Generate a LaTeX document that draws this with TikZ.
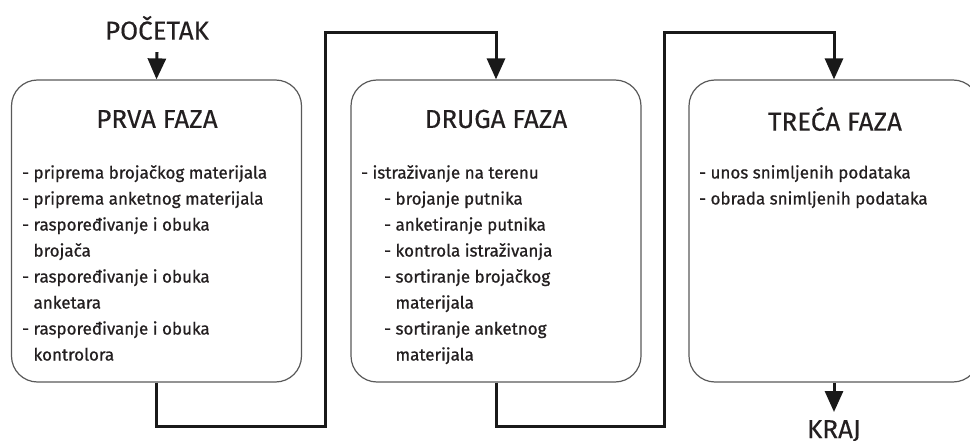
\documentclass[tikz,border=0pt]{standalone}
\usepackage{fontspec}
\setmainfont{Fira Sans}
\newfontfamily\heavier{Fira Sans}[FakeBold=0.8]
\newfontfamily\lighter{Fira Sans}[FakeBold=0.3]
\usetikzlibrary{arrows.meta}
\definecolor{ink}{HTML}{231F20}
\tikzset{
 phase/.style={draw=black!65, line width=1.2pt, rounded corners=26pt, minimum width=290pt, minimum height=302pt, inner sep=0pt},
 title/.style={font=\lighter\fontsize{26}{30}\selectfont, text=ink, inner sep=0pt},
 body/.style={font=\heavier\fontsize{17}{26}\selectfont, text=ink, align=left, anchor=north west, inner sep=0pt},
 conn/.style={line width=3pt, draw=black!90},
 tip/.style={-{Triangle[length=21pt,width=18pt]}},
}
\newcommand\contind{\phantom{- }}
\newcommand\subind{\hspace*{23pt}}
\begin{document}
\begin{tikzpicture}[x=1pt,y=-1pt]
\useasboundingbox (0,0) rectangle (970,441);
% boxes
\node[phase] (b1) at (156.5,231) {};
\node[phase] (b2) at (496,231) {};
\node[phase] (b3) at (834,231) {};
% titles
\node[title] (t1) at (157,119) {PRVA FAZA};
\node[title] (t2) at (496,119) {DRUGA FAZA};
\node[title] (t3) at (835,119) {TREĆA FAZA};
% bodies
\node[body] (l1) at (22,165) {- priprema brojačkog materijala\\
- priprema anketnog materijala\\
- raspoređivanje i obuka\\
\contind brojača\\
- raspoređivanje i obuka\\
\contind anketara\\
- raspoređivanje i obuka\\
\contind kontrolora};
\node[body] (l2) at (361,165) {- istraživanje na terenu\\
\subind- brojanje putnika\\
\subind- anketiranje putnika\\
\subind- kontrola istraživanja\\
\subind- sortiranje brojačkog\\
\subind\contind materijala\\
\subind- sortiranje anketnog\\
\subind\contind materijala};
\node[body] (l3) at (699,165) {- unos snimljenih podataka\\
- obrada snimljenih podataka};
% start / end
\node[title] (start) at (157,28) {POČETAK};
\node[title,anchor=north] (kraj) at (834,420) {KRAJ};
\coordinate (c1) at (325,426);
\coordinate (c2) at (325,33);
\coordinate (c3) at (664,426);
\coordinate (c4) at (664,33);
% connectors
\draw[conn,tip] ([yshift=-12pt]start.south) -- (b1.north);
\draw[conn,tip] (b1.south) |- (c1) -- (c2) -| (b2.north);
\draw[conn,tip] (b2.south) |- (c3) -- (c4) -| (b3.north);
\draw[conn,tip] (b3.south) -- ([yshift=8pt]kraj.north);
\end{tikzpicture}
\end{document}
